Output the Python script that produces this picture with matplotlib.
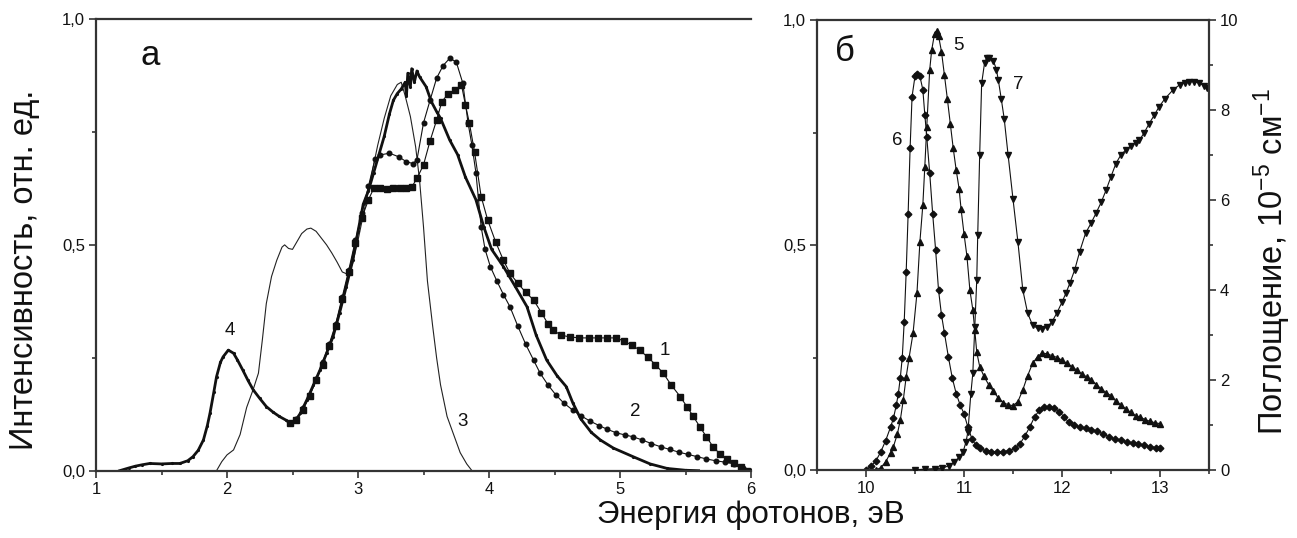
import matplotlib
matplotlib.use("Agg")
import matplotlib.pyplot as plt
from matplotlib.ticker import MultipleLocator, FixedLocator

plt.rcParams['font.family'] = ['Liberation Sans', 'DejaVu Sans']
plt.rcParams['mathtext.fontset'] = 'custom'
plt.rcParams['mathtext.rm'] = 'Liberation Sans'
plt.rcParams['mathtext.it'] = 'Liberation Sans:italic'
plt.rcParams['mathtext.bf'] = 'Liberation Sans:bold'

# ---------- panel "а": luminescence spectra ----------
x1 = [2.48, 2.53, 2.58, 2.63, 2.68, 2.73, 2.78, 2.83, 2.88, 2.93, 2.98, 3.03, 3.08, 3.12,
      3.17, 3.22, 3.27, 3.32, 3.37, 3.41, 3.45, 3.50, 3.55, 3.60, 3.64, 3.69, 3.74, 3.79,
      3.82, 3.85, 3.89, 3.94, 3.99, 4.05, 4.11, 4.16, 4.22, 4.28, 4.34, 4.40, 4.45, 4.49,
      4.55, 4.62, 4.69, 4.76, 4.83, 4.90, 4.97, 5.03, 5.09, 5.15, 5.21, 5.27, 5.33, 5.39,
      5.46, 5.51, 5.56, 5.61, 5.66, 5.71, 5.76, 5.82, 5.87, 5.92, 5.97]
y1 = [0.105, 0.112, 0.135, 0.165, 0.200, 0.235, 0.275, 0.320, 0.380, 0.440, 0.505, 0.560,
      0.600, 0.625, 0.626, 0.624, 0.625, 0.625, 0.626, 0.628, 0.647, 0.677, 0.730, 0.776,
      0.817, 0.835, 0.843, 0.854, 0.810, 0.770, 0.705, 0.607, 0.555, 0.507, 0.466, 0.437,
      0.415, 0.395, 0.378, 0.350, 0.325, 0.311, 0.300, 0.296, 0.294, 0.294, 0.294, 0.294,
      0.294, 0.287, 0.278, 0.267, 0.252, 0.235, 0.216, 0.190, 0.164, 0.142, 0.120, 0.097,
      0.075, 0.053, 0.038, 0.025, 0.017, 0.008, 0.000]

x2 = [2.48, 2.53, 2.58, 2.63, 2.68, 2.73, 2.78, 2.83, 2.88, 2.93, 2.98, 3.03, 3.08, 3.13,
      3.17, 3.24, 3.31, 3.37, 3.42, 3.45, 3.50, 3.55, 3.60, 3.65, 3.70, 3.75, 3.80, 3.84,
      3.87, 3.90, 3.94, 3.97, 4.01, 4.06, 4.11, 4.16, 4.22, 4.28, 4.34, 4.39, 4.45, 4.51,
      4.57, 4.64, 4.70, 4.77, 4.84, 4.90, 4.97, 5.04, 5.10, 5.17, 5.24, 5.31, 5.38, 5.45,
      5.52, 5.59, 5.66, 5.73, 5.80, 5.87, 5.94, 6.00]
y2 = [0.105, 0.114, 0.138, 0.168, 0.203, 0.240, 0.280, 0.325, 0.385, 0.445, 0.510, 0.570,
      0.630, 0.690, 0.699, 0.703, 0.695, 0.684, 0.680, 0.688, 0.770, 0.820, 0.869, 0.897,
      0.913, 0.905, 0.858, 0.770, 0.720, 0.660, 0.540, 0.490, 0.452, 0.420, 0.390, 0.363,
      0.320, 0.280, 0.245, 0.216, 0.190, 0.168, 0.150, 0.134, 0.122, 0.110, 0.100, 0.092,
      0.084, 0.079, 0.075, 0.068, 0.060, 0.053, 0.047, 0.041, 0.036, 0.031, 0.026, 0.022,
      0.019, 0.015, 0.007, 0.000]

x3 = [1.92, 1.96, 2.00, 2.05, 2.10, 2.15, 2.20, 2.24, 2.27, 2.30, 2.34, 2.38, 2.42, 2.44,
      2.47, 2.50, 2.53, 2.57, 2.61, 2.64, 2.68, 2.72, 2.76, 2.80, 2.84, 2.88, 2.92, 2.96,
      3.00, 3.05, 3.10, 3.15, 3.20, 3.25, 3.30, 3.33, 3.36, 3.40, 3.44, 3.47, 3.50, 3.53,
      3.57, 3.60, 3.63, 3.68, 3.73, 3.78, 3.83, 3.87]
y3 = [0.000, 0.020, 0.035, 0.046, 0.080, 0.140, 0.180, 0.216, 0.290, 0.370, 0.430, 0.466,
      0.495, 0.500, 0.492, 0.490, 0.505, 0.525, 0.535, 0.537, 0.530, 0.515, 0.500, 0.482,
      0.462, 0.440, 0.435, 0.460, 0.510, 0.580, 0.650, 0.720, 0.780, 0.830, 0.855, 0.860,
      0.830, 0.784, 0.717, 0.643, 0.540, 0.420, 0.320, 0.250, 0.190, 0.120, 0.080, 0.040,
      0.015, 0.000]

x4 = [1.18, 1.25, 1.30, 1.35, 1.41, 1.50, 1.58, 1.64, 1.70, 1.74, 1.78, 1.82, 1.85, 1.87,
      1.90, 1.92, 1.95, 1.97, 2.01, 2.05, 2.08, 2.12, 2.16, 2.20, 2.25, 2.30, 2.35, 2.40,
      2.45, 2.48, 2.52, 2.56, 2.61, 2.66, 2.71, 2.76, 2.81, 2.86, 2.91, 2.96, 3.00, 3.04,
      3.08, 3.12, 3.16, 3.20, 3.24, 3.27, 3.30, 3.33, 3.36, 3.37, 3.38, 3.40, 3.41, 3.43,
      3.45, 3.47, 3.52, 3.56, 3.60, 3.63, 3.70, 3.76, 3.82, 3.90, 3.96, 4.02, 4.11, 4.20,
      4.29, 4.36, 4.44, 4.52, 4.59, 4.64, 4.70, 4.78, 4.85, 4.95, 5.10, 5.23, 5.36, 5.50,
      5.60]
y4 = [0.000, 0.006, 0.010, 0.013, 0.016, 0.015, 0.016, 0.016, 0.022, 0.031, 0.045, 0.068,
      0.100, 0.127, 0.175, 0.208, 0.240, 0.252, 0.267, 0.260, 0.245, 0.223, 0.200, 0.179,
      0.160, 0.142, 0.130, 0.120, 0.112, 0.105, 0.110, 0.127, 0.157, 0.190, 0.223, 0.260,
      0.297, 0.350, 0.407, 0.466, 0.530, 0.590, 0.620, 0.660, 0.700, 0.740, 0.790, 0.820,
      0.835, 0.845, 0.860, 0.830, 0.880, 0.850, 0.890, 0.860, 0.885, 0.872, 0.850, 0.817,
      0.795, 0.780, 0.732, 0.700, 0.650, 0.600, 0.540, 0.490, 0.452, 0.408, 0.363, 0.300,
      0.245, 0.210, 0.186, 0.150, 0.115, 0.085, 0.068, 0.050, 0.031, 0.015, 0.005, 0.001,
      0.000]

# ---------- panel "б": excitation (5, 6) and absorption (7) ----------
x5 = [10.10, 10.15, 10.20, 10.25, 10.28, 10.32, 10.35, 10.38, 10.41, 10.44, 10.48, 10.52,
      10.55, 10.58, 10.60, 10.62, 10.65, 10.67, 10.70, 10.72, 10.74, 10.77, 10.80, 10.83,
      10.86, 10.89, 10.92, 10.95, 10.97, 11.00, 11.03, 11.06, 11.09, 11.11, 11.13, 11.16,
      11.20, 11.25, 11.30, 11.35, 11.40, 11.45, 11.50, 11.55, 11.60, 11.65, 11.70, 11.75,
      11.80, 11.85, 11.90, 11.95, 12.00, 12.05, 12.10, 12.15, 12.20, 12.25, 12.30, 12.35,
      12.40, 12.45, 12.50, 12.55, 12.60, 12.65, 12.70, 12.75, 12.80, 12.85, 12.90, 12.95,
      13.00]
y5 = [0.000, 0.005, 0.018, 0.038, 0.052, 0.080, 0.111, 0.155, 0.207, 0.250, 0.304, 0.393,
      0.507, 0.589, 0.674, 0.763, 0.889, 0.933, 0.970, 0.975, 0.965, 0.930, 0.878, 0.825,
      0.770, 0.715, 0.667, 0.625, 0.580, 0.525, 0.475, 0.400, 0.356, 0.311, 0.262, 0.230,
      0.210, 0.190, 0.175, 0.160, 0.150, 0.145, 0.143, 0.152, 0.178, 0.210, 0.237, 0.252,
      0.260, 0.258, 0.254, 0.250, 0.244, 0.237, 0.230, 0.222, 0.214, 0.207, 0.200, 0.190,
      0.180, 0.172, 0.165, 0.153, 0.145, 0.136, 0.128, 0.121, 0.117, 0.112, 0.108, 0.105,
      0.103]

x6 = [10.00, 10.05, 10.10, 10.15, 10.20, 10.25, 10.28, 10.31, 10.33, 10.35, 10.37, 10.39,
      10.41, 10.43, 10.45, 10.47, 10.50, 10.52, 10.55, 10.58, 10.60, 10.62, 10.65, 10.68,
      10.71, 10.74, 10.77, 10.80, 10.84, 10.88, 10.92, 10.96, 11.00, 11.04, 11.08, 11.12,
      11.16, 11.22, 11.28, 11.34, 11.40, 11.46, 11.52, 11.57, 11.62, 11.67, 11.72, 11.77,
      11.82, 11.87, 11.92, 11.97, 12.02, 12.07, 12.12, 12.18, 12.24, 12.30, 12.36, 12.42,
      12.48, 12.54, 12.60, 12.66, 12.72, 12.78, 12.84, 12.90, 12.96, 13.00]
y6 = [0.000, 0.008, 0.020, 0.040, 0.065, 0.095, 0.115, 0.145, 0.170, 0.205, 0.250, 0.330,
      0.440, 0.570, 0.715, 0.830, 0.875, 0.880, 0.875, 0.845, 0.790, 0.740, 0.660, 0.570,
      0.490, 0.400, 0.345, 0.305, 0.252, 0.205, 0.170, 0.145, 0.125, 0.095, 0.070, 0.055,
      0.048, 0.043, 0.041, 0.041, 0.041, 0.043, 0.048, 0.058, 0.075, 0.095, 0.118, 0.133,
      0.140, 0.141, 0.138, 0.130, 0.118, 0.106, 0.100, 0.096, 0.093, 0.090, 0.086, 0.080,
      0.074, 0.069, 0.066, 0.063, 0.060, 0.058, 0.055, 0.052, 0.050, 0.049]

x7 = [10.50, 10.60, 10.70, 10.78, 10.85, 10.90, 10.95, 10.99, 11.02, 11.04, 11.07, 11.09,
      11.11, 11.13, 11.14, 11.16, 11.18, 11.21, 11.23, 11.26, 11.30, 11.33, 11.35, 11.38,
      11.41, 11.45, 11.50, 11.55, 11.60, 11.65, 11.70, 11.75, 11.80, 11.85, 11.90, 11.95,
      12.00, 12.04, 12.08, 12.13, 12.18, 12.24, 12.30, 12.35, 12.40, 12.45, 12.50, 12.55,
      12.60, 12.65, 12.70, 12.75, 12.79, 12.84, 12.89, 12.94, 12.99, 13.05, 13.13, 13.20,
      13.25, 13.30, 13.35, 13.40, 13.45, 13.48]
y7 = [0.00, 0.02, 0.03, 0.04, 0.10, 0.18, 0.28, 0.40, 0.62, 0.85, 1.70, 2.15, 3.18, 4.22,
      5.22, 7.00, 8.59, 9.05, 9.15, 9.15, 9.10, 8.90, 8.67, 8.25, 7.81, 7.00, 6.02, 5.07,
      4.00, 3.48, 3.22, 3.15, 3.13, 3.18, 3.30, 3.50, 3.73, 3.93, 4.15, 4.45, 4.85, 5.26,
      5.50, 5.72, 5.95, 6.22, 6.52, 6.81, 7.00, 7.11, 7.20, 7.27, 7.33, 7.50, 7.70, 7.88,
      8.07, 8.25, 8.44, 8.56, 8.60, 8.63, 8.63, 8.60, 8.54, 8.48]

left_ticks = [0.0, 0.5, 1.0]
left_ticklabels = ['0,0', '0,5', '1,0']
xticks_a = [1, 2, 3, 4, 5, 6]
xticks_b = [10, 11, 12, 13]
right_ticks = [0, 2, 4, 6, 8, 10]

W, H = 1297, 538
fig = plt.figure(figsize=(W / 100, H / 100), dpi=100)
spine_c = '#333333'
ink = '#111111'


def style(ax, sides):
    for s in ['left', 'right', 'top', 'bottom']:
        ax.spines[s].set_visible(s in sides)
        ax.spines[s].set_color(spine_c)
        ax.spines[s].set_linewidth(1.6)
    ax.tick_params(which='both', direction='out', colors=spine_c, labelcolor=ink,
                   labelsize=12, width=1.2, pad=3)
    ax.tick_params(which='major', length=5)
    ax.tick_params(which='minor', length=3)


# panel а
axa = fig.add_axes([96 / W, 1 - 470.7 / H, 655 / W, 451.7 / H])
axa.plot(x3, y3, color='#222222', lw=0.8)
axa.plot(x4, y4, color=ink, lw=2.0, marker='.', ms=2.5)
axa.plot(x1, y1, color=ink, lw=0.8, marker='s', ms=3.8)
axa.plot(x2, y2, color=ink, lw=0.8, marker='o', ms=3.3)
axa.set_xlim(1, 6)
axa.set_ylim(0, 1)
axa.set_xticks(xticks_a)
axa.xaxis.set_minor_locator(MultipleLocator(0.5))
axa.yaxis.set_major_locator(FixedLocator(left_ticks))
axa.set_yticklabels(left_ticklabels)
axa.yaxis.set_minor_locator(MultipleLocator(0.25))
style(axa, ['left', 'bottom', 'top'])
axa.tick_params(axis='x', which='both', top=False)
axa.text(1.41, 0.92, 'а', fontsize=25, color=ink, ha='center', va='center')
for lab, lx, ly in [('1', 5.34, 0.265), ('2', 5.12, 0.13), ('3', 3.80, 0.11), ('4', 2.02, 0.31)]:
    axa.text(lx, ly, lab, fontsize=13.5, color=ink, ha='center', va='center')

# panel б
axb = fig.add_axes([817 / W, 1 - 470 / H, 392 / W, 450 / H])
axb.plot(x5, y5, color=ink, lw=0.8, marker='^', ms=4.5)
axb.plot(x6, y6, color=ink, lw=0.8, marker='D', ms=3.4)
axb.set_xlim(9.5, 13.5)
axb.set_ylim(0, 1)
axb.set_xticks(xticks_b)
axb.xaxis.set_minor_locator(MultipleLocator(0.5))
axb.yaxis.set_major_locator(FixedLocator(left_ticks))
axb.set_yticklabels(left_ticklabels)
axb.yaxis.set_minor_locator(MultipleLocator(0.25))
style(axb, ['left', 'bottom', 'top'])
axb.tick_params(axis='x', which='both', top=False)
axb.text(9.79, 0.93, 'б', fontsize=25, color=ink, ha='center', va='center')
for lab, lx, ly in [('5', 10.94, 0.944), ('6', 10.32, 0.733), ('7', 11.55, 0.857)]:
    axb.text(lx, ly, lab, fontsize=13.5, color=ink, ha='center', va='center')

axr = axb.twinx()
axr.plot(x7, y7, color=ink, lw=0.8, marker='v', ms=4.5)
axr.set_ylim(0, 10)
axr.set_yticks(right_ticks)
axr.yaxis.set_minor_locator(MultipleLocator(1))
style(axr, ['right'])

# axis titles
fig.text(751 / W, 1 - 515 / H, 'Энергия фотонов, эВ', fontsize=22.5, color=ink,
         ha='center', va='center')
fig.text(25 / W, 1 - 270 / H, 'Интенсивность, отн. ед.', fontsize=23.5, color=ink,
         ha='center', va='center', rotation=90)
fig.text(1272 / W, 1 - 262 / H, 'Поглощение, 10$^{-5}$ см$^{-1}$', fontsize=23.5, color=ink,
         ha='center', va='center', rotation=90)

fig.savefig('out.png', dpi=100, facecolor='white')
